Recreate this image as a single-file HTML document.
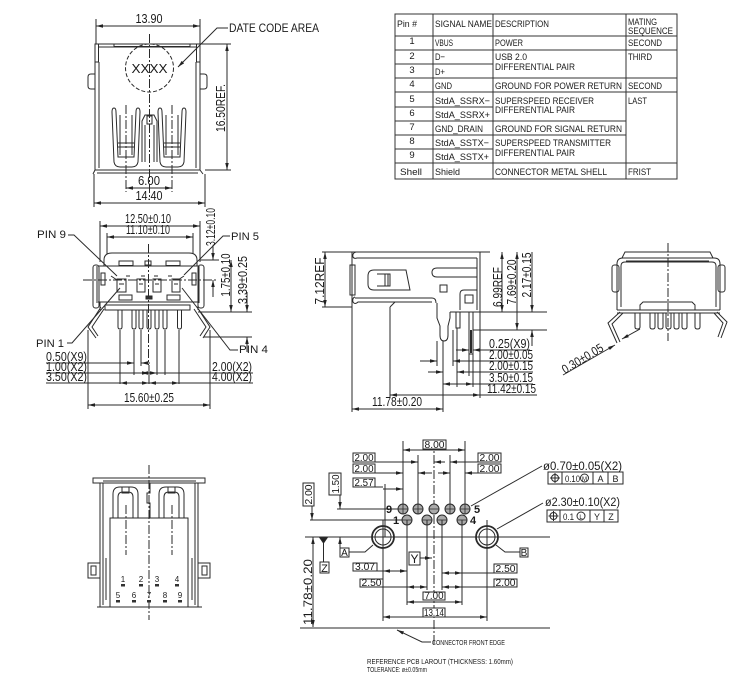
<!DOCTYPE html>
<html><head><meta charset="utf-8"><style>
html,body{margin:0;padding:0;background:#fff;width:750px;height:690px;overflow:hidden}
svg{display:block}
text{font-family:"Liberation Sans",sans-serif;fill:#1a1a1a;stroke:none}
.d{marker-start:url(#a);marker-end:url(#a)}
.e{marker-end:url(#a)}
.c{stroke-dasharray:9 2 2 2}
.h{stroke-dasharray:4 2}
</style></head><body>
<svg width="750" height="690" viewBox="0 0 750 690" xmlns="http://www.w3.org/2000/svg">
<defs>
<marker id="a" viewBox="0 0 10 10" refX="10" refY="5" markerWidth="7" markerHeight="7" markerUnits="userSpaceOnUse" orient="auto-start-reverse"><path d="M0,2.5 L10,5 L0,7.5z" fill="#222"/></marker>
</defs>
<g fill="none" stroke="#2a2a2a" stroke-width="1">

<!-- ============ VIEW 1 (front top) ============ -->
<line x1="96" y1="19" x2="96" y2="44"/><line x1="200" y1="19" x2="200" y2="44"/>
<line class="d" x1="96" y1="26" x2="200" y2="26"/>
<path d="M95,44 H200 V170 H95 Z"/>
<path d="M99,62 V168 M196,62 V168 M99,47 H196"/>
<rect x="114" y="44" width="76" height="2.5"/>
<rect x="95" y="44" width="3.5" height="18"/><rect x="196.5" y="44" width="3.5" height="18"/>
<path d="M95,74 H91 Q88,74 88,77 V86 Q88,89 91,89 H95 M200,74 H204 Q207,74 207,77 V86 Q207,89 204,89 H200"/>
<circle cx="149.5" cy="68" r="24" class="h"/>
<line class="c" x1="149.5" y1="34" x2="149.5" y2="200"/>
<path class="e" d="M228,28 H217 L178,67"/>
<g id="u1">
<path d="M112,112 Q112,108 114,108 Q116,108 116,112 L118,157 H134 L136,112 Q136,108 138,108 Q140,108 140,112 L138,162 Q137,167 132,167 H120 Q115,167 114,162 Z"/>
<path d="M120,115 V155 M132,115 V155 M118,143 H134 M118,147 H134"/>
</g>
<use href="#u1" x="46" y="0"/>
<path d="M142,162 V121 L145,115 H154 L157,121 V162 M145,162 V125 M154,162 V125"/>
<rect x="147" y="116" width="5" height="8"/>
<line class="c" x1="126" y1="105" x2="126" y2="192"/><line class="c" x1="172" y1="105" x2="172" y2="192"/>
<path d="M93,174 L95,170 M200,170 L203,174 M97,173 H198"/>
<line class="d" x1="126" y1="188" x2="172" y2="188"/>
<line x1="94" y1="174" x2="94" y2="207"/><line x1="205" y1="174" x2="205" y2="207"/>
<line class="d" x1="94" y1="203" x2="205" y2="203"/>
<line x1="200" y1="44" x2="231" y2="44"/><line x1="205" y1="170" x2="231" y2="170"/>
<line class="d" x1="227" y1="44" x2="227" y2="170"/>

<!-- ============ TABLE ============ -->
<g stroke="#333">
<rect x="395" y="14" width="282" height="165"/>
<path d="M433,14 V179 M493,14 V179 M626,14 V179"/>
<path d="M395,36 H677 M395,50 H677 M395,64 H493 M395,78 H677 M395,92 H677 M395,107 H493 M395,121 H626 M395,135 H626 M395,149 H493 M395,163 H677"/>
</g>

<!-- ============ VIEW 2 (front with pins) ============ -->
<line x1="100" y1="221" x2="100" y2="262"/><line x1="200" y1="221" x2="200" y2="262"/>
<line class="d" x1="100" y1="226" x2="200" y2="226"/>
<line x1="107" y1="233" x2="107" y2="254"/><line x1="193" y1="233" x2="193" y2="254"/>
<line class="d" x1="107" y1="237" x2="193" y2="237"/>
<path d="M104,266 V260 Q104,253 112,253 H189 Q197,253 197,260 V266"/>
<path d="M98,266 H198 M98,302 H198 M97,266 V303 M199,266 V303"/>
<rect x="93" y="265" width="6" height="43" rx="2.5"/><rect x="198" y="265" width="6" height="43" rx="2.5"/>
<rect x="101" y="273" width="4" height="12"/><rect x="192" y="273" width="4" height="12"/>
<rect x="119" y="261" width="14" height="4.5"/><rect x="145" y="261" width="6" height="4"/><rect x="166" y="261" width="14" height="4.5"/>
<path d="M111,276 L117,280 M126,276 H130 M141,276 H145 M154,276 H158 M168,276 H172 M184,276 L178,280"/>
<rect x="117" y="279" width="9" height="13"/><rect x="137" y="279" width="8" height="13"/><rect x="153" y="279" width="8" height="13"/><rect x="172" y="279" width="8" height="13"/>
<path d="M119,284 H124 M139,284 H143 M155,284 H159 M174,284 H178"/>
<rect x="119" y="295" width="13" height="5"/><rect x="167" y="295" width="13" height="5"/>
<rect x="146" y="296" width="6" height="3" fill="#333"/>
<path d="M105,305 H190 V310 H105 Z M100,302 V310 M198,302 V310"/>
<g id="pn"><path d="M118,310 V327 Q118,329 120,329 Q122,329 122,327 V310"/></g>
<use href="#pn" x="14"/><use href="#pn" x="21"/><use href="#pn" x="29"/><use href="#pn" x="37"/><use href="#pn" x="45"/><use href="#pn" x="59.5"/>
<path d="M101,307 L88,327 L96,338 M104,309 L92,327 L98,336"/>
<path d="M197,307 L210,327 L203,338 M194,309 L206,327 L200,336"/>
<line class="c" x1="148.5" y1="244" x2="148.5" y2="365"/>
<line class="c" x1="83" y1="280" x2="218" y2="280"/>
<path d="M68,235 H74 L117,276 M230,236 H223 L184,275 M67,343 H72 L120,288 M238,350 H230 L182,288"/>
<path d="M200,260 H219 M198,312 H252 M204,337 H252"/>
<line class="e" x1="213" y1="246" x2="213" y2="260"/><line class="e" x1="213" y1="297" x2="213" y2="280"/>
<line class="d" x1="231" y1="260" x2="231" y2="312"/>
<line class="e" x1="247" y1="292" x2="247" y2="312"/><line class="e" x1="247" y1="352" x2="247" y2="337"/>
<path d="M88,330 V409 M210,330 V409 M120,330 V384 M134,330 V375 M141,330 V366 M149,365 V384 M157,330 V375 M165,330 V375 M179,330 V384"/>
<path d="M46,363 H132" /><line class="e" x1="125" y1="363" x2="134" y2="363"/><line class="e" x1="150" y1="363" x2="141" y2="363"/>
<path d="M46,373 H253"/><path d="M46,383 H253"/>
<line class="d" x1="141" y1="373" x2="157" y2="373"/>
<line class="d" x1="134" y1="373" x2="149" y2="373" style="marker-start:none"/>
<line class="d" x1="120" y1="383" x2="149" y2="383"/><line class="d" x1="149" y1="383" x2="179" y2="383"/>
<line class="d" x1="88" y1="405" x2="210" y2="405"/>

<!-- ============ VIEW 3 (side) ============ -->
<path d="M322,252 H490"/>
<line class="d" x1="325" y1="252" x2="325" y2="307"/>
<path d="M322,307 H352"/>
<path d="M352,252 V412"/>
<path d="M356,252 Q352,253 353,257 Q354,259 357,258 H477"/>
<rect x="350" y="265" width="5" height="30"/>
<path d="M355,297 Q352,298 353,302 Q355,305 358,302 L432,302 M355,298 H432 Q436,298 436,303"/>
<path d="M374,270 H406 L410,290 H374 Q368,290 368,284 V276 Q368,270 374,270 Z M377,274 H390 V286 H377 M385,274 V286 M388,274 V286"/>
<path d="M437,268 H477 V277 H437 Q432,277 432,272.5 Q432,268 437,268 Z"/>
<rect x="440" y="285" width="7" height="7"/>
<path d="M460,310 V294 Q460,290 464,290 H477"/><rect x="465" y="295" width="8" height="8"/>
<path d="M477,258 V310 M480,252 V398"/>
<path d="M390,307 L395,302 M390,307 V398"/>
<path d="M437,303 V318 L440,326 V335 Q440,341 444,341 Q448,341 448,335 V326 L450,318 V312"/>
<path d="M450,312 H547 M473,330 H547"/>
<rect x="456" y="312" width="4" height="16"/><rect x="469" y="312" width="4" height="42"/>
<line x1="471" y1="330" x2="471" y2="353" stroke-width="2"/>
<line class="d" x1="502" y1="252" x2="502" y2="312"/>
<line class="d" x1="517" y1="252" x2="517" y2="330"/>
<line class="e" x1="532" y1="252" x2="532" y2="312"/><line class="e" x1="532" y1="346" x2="532" y2="330"/>
<path d="M437,341 V366 M443,341 V412 M453,330 V366 M457,328 V387 M469,354 V376 M473,354 V387"/>
<line class="e" x1="456" y1="350" x2="469" y2="350"/><path d="M473,350 H530"/><line class="e" x1="486" y1="350" x2="473" y2="350"/>
<line class="e" x1="420" y1="361" x2="437" y2="361"/><path d="M453,361 H533"/><line class="e" x1="466" y1="361" x2="453" y2="361"/>
<line class="e" x1="428" y1="372" x2="443" y2="372"/><path d="M457,372 H533"/><line class="e" x1="470" y1="372" x2="457" y2="372"/>
<line class="d" x1="443" y1="384" x2="473" y2="384"/><path d="M473,384 H533"/>
<line class="d" x1="390" y1="395" x2="480" y2="395"/><path d="M480,395 H537"/>
<line class="d" x1="352" y1="409" x2="443" y2="409"/>

<!-- ============ VIEW 4 (rear) ============ -->
<path d="M622,258 L625,252 H710 L713,258"/>
<path d="M626,261 H709"/>
<path d="M617,310 V264 Q617,258 623,258 H714 Q720,258 720,264 V310"/>
<path d="M621,307 V266 Q621,262 625,262 H712 Q716,262 716,266 V307"/>
<rect x="612" y="265" width="7" height="27" rx="2.5"/><rect x="718" y="265" width="7" height="27" rx="2.5"/>
<path d="M640,310 V305 L643,302 H692 L695,305 V310"/>
<path d="M617,310 H720 M617,313 H720"/>
<g id="p4"><path d="M635,313 V327 Q635,329 637.5,329 Q640,329 640,327 V313"/></g>
<use href="#p4" x="15"/><use href="#p4" x="23"/><use href="#p4" x="31"/><use href="#p4" x="39"/><use href="#p4" x="47"/><use href="#p4" x="60"/>
<line class="c" x1="668" y1="243" x2="668" y2="341"/>
<path d="M620,312 L608,323 L617,343 M623,313 L612,324 L620,342"/>
<path d="M717,312 L727,322 L721,338 M714,313 L723,323 L718,337"/>
<line class="e" x1="563" y1="375" x2="615" y2="345"/>
<line class="e" x1="640" y1="329" x2="622" y2="339"/>

<!-- ============ VIEW 5 (bottom) ============ -->
<path d="M93,483 V478 H205 V483 Z M103,481 H196"/>
<path d="M100,483 V607 M198,483 V607 M103,483 V605 M195,483 V605"/>
<path d="M113,518 V494 Q113,487 120,487 H131 Q138,487 138,494 V518 M118,518 V497 Q118,492 123,492 H128 Q133,492 133,497 V518"/>
<path d="M159,518 V494 Q159,487 166,487 H177 Q184,487 184,494 V518 M164,518 V497 Q164,492 169,492 H174 Q179,492 179,497 V518"/>
<rect x="122" y="487" width="7" height="6"/><rect x="168" y="487" width="7" height="6"/>
<path d="M150,483 V493 H147 V503 H150 V518"/>
<rect x="110" y="518" width="78" height="89"/>
<line class="c" x1="126" y1="505" x2="126" y2="555"/><line class="c" x1="172" y1="505" x2="172" y2="555"/>
<rect x="88" y="563" width="12" height="15"/><rect x="198" y="563" width="12" height="15"/>
<rect x="91" y="566" width="5" height="9"/><rect x="202" y="566" width="5" height="9"/>
<path d="M106,558 V600 M192,558 V600 M97,607 H202"/>
<line class="c" x1="149" y1="465" x2="149" y2="620"/>
<g fill="#333" stroke="none">
<rect x="121" y="584" width="4" height="2.5"/><rect x="139" y="584" width="4" height="2.5"/><rect x="155" y="584" width="4" height="2.5"/><rect x="175" y="584" width="4" height="2.5"/>
<rect x="116" y="600" width="4" height="2.5"/><rect x="132" y="600" width="4" height="2.5"/><rect x="147" y="600" width="4" height="2.5"/><rect x="163" y="600" width="4" height="2.5"/><rect x="178" y="600" width="4" height="2.5"/>
</g>

<!-- ============ PCB LAYOUT ============ -->
<line class="c" x1="434" y1="440" x2="434" y2="646"/>
<path d="M403,441 V504 M465,441 V504 M418,455 V504 M450,455 V504"/>
<line class="d" x1="403" y1="450" x2="465" y2="450"/>
<rect x="423" y="440" width="23" height="9" fill="#fff"/>
<rect x="353" y="453" width="22" height="9"/><rect x="353" y="464" width="22" height="9"/><rect x="353" y="478" width="22" height="9"/>
<rect x="478" y="453" width="23" height="9"/><rect x="478" y="464" width="23" height="9"/>
<path d="M375,462 H403"/><line class="e" x1="403" y1="462" x2="418" y2="462"/><line class="e" x1="445" y1="462" x2="434" y2="462"/>
<path d="M478,462 H465"/><line class="e" x1="465" y1="462" x2="450" y2="462"/>
<line class="e" x1="375" y1="473" x2="403" y2="473"/><line class="e" x1="432" y1="473" x2="418" y2="473"/>
<line class="e" x1="478" y1="473" x2="465" y2="473"/><line class="e" x1="438" y1="473" x2="450" y2="473"/>
<path d="M375,487 H383"/><line class="e" x1="383" y1="489" x2="403" y2="489"/>
<path d="M385,484 V537"/>
<path d="M310,520 H402 M337,509 H398"/>
<rect x="303" y="483" width="11" height="23"/>
<line class="e" x1="312" y1="506" x2="312" y2="520"/>
<rect x="329" y="473" width="12" height="22"/>
<line class="e" x1="340" y1="495" x2="340" y2="509"/><line class="e" x1="340" y1="552" x2="340" y2="537"/>
<g fill="#aaa">
<circle cx="403" cy="509" r="5"/><circle cx="418" cy="509" r="5"/><circle cx="434" cy="509" r="5"/><circle cx="450" cy="509" r="5"/><circle cx="465" cy="509" r="5"/>
<circle cx="407" cy="520" r="5"/><circle cx="427" cy="520" r="5"/><circle cx="442" cy="520" r="5"/><circle cx="462" cy="520" r="5"/>
</g>
<path d="M398,509 H408 M403,504 V514 M413,509 H423 M418,504 V514 M429,509 H439 M445,509 H455 M450,504 V514 M460,509 H470 M465,504 V514 M402,520 H412 M422,520 H432 M437,520 H447 M457,520 H467" stroke-width="0.8"/>
<circle cx="383" cy="537" r="11" stroke-width="1.8"/><circle cx="383" cy="537" r="8"/>
<circle cx="487" cy="537" r="11" stroke-width="1.8"/><circle cx="487" cy="537" r="8"/>
<path d="M305,537 H550"/>
<path d="M383,520 V621 M487,520 V621 M407,520 V605 M462,520 V605 M427,520 V590 M442,520 V590"/>
<path d="M320,538 H327 L323.5,543 Z" fill="#222"/>
<path d="M323.5,543 V562"/>
<rect x="320" y="562" width="9" height="11"/>
<rect x="340" y="548" width="9" height="9"/><path d="M349,552 H365 L373,545"/>
<rect x="520" y="548" width="8" height="9"/><path d="M520,552 H505 L496,545"/>
<rect x="409" y="552" width="11" height="13"/><line class="e" x1="420" y1="558" x2="432" y2="558"/>
<line class="d" x1="313" y1="537" x2="313" y2="627"/>
<rect x="353" y="563" width="24" height="8"/><path d="M377,571 H383"/><line class="d" x1="383" y1="571" x2="407" y2="571"/>
<rect x="360" y="579" width="23" height="8"/><line class="d" x1="407" y1="587" x2="427" y2="587"/><path d="M383,587 H407"/>
<rect x="494" y="564" width="23" height="9"/><path d="M494,573 H462"/><line class="d" x1="442" y1="573" x2="462" y2="573"/>
<rect x="494" y="579" width="23" height="8"/><path d="M494,587 H462"/><line class="d" x1="442" y1="587" x2="462" y2="587"/>
<rect x="423" y="592" width="22" height="8" fill="#fff"/><line class="d" x1="407" y1="602" x2="462" y2="602"/>
<rect x="423" y="608" width="22" height="9" fill="#fff"/><line class="d" x1="383" y1="617" x2="487" y2="617"/>
<path d="M300,628 H550"/>
<path d="M431,642 H422 L397,630" class="e"/>
<path d="M542,466 L471,506"/>
<path d="M543,503 L497,529"/>
<rect x="548" y="472" width="75" height="12"/><path d="M562,472 V484 M593,472 V484 M608,472 V484"/>
<rect x="547" y="510" width="71" height="12"/><path d="M560,510 V522 M590,510 V522 M604,510 V522"/>
<circle cx="555" cy="478" r="3.5"/><path d="M550,478 H560 M555,473 V483"/>
<circle cx="553.5" cy="516" r="3.5"/><path d="M548.5,516 H558.5 M553.5,511 V521"/>
<circle cx="584.5" cy="478" r="4"/><circle cx="581" cy="516" r="4"/>
</g>

<!-- ============ TEXT ============ -->
<g font-size="12.5">
<text x="149" y="23" text-anchor="middle" textLength="27" lengthAdjust="spacingAndGlyphs">13.90</text>
<text x="149.5" y="73" text-anchor="middle" font-size="13" textLength="36" lengthAdjust="spacingAndGlyphs">XXXX</text>
<text x="229" y="32" font-size="11.5" textLength="90" lengthAdjust="spacingAndGlyphs">DATE CODE AREA</text>
<text x="149" y="185" text-anchor="middle" textLength="22" lengthAdjust="spacingAndGlyphs">6.00</text>
<text x="149" y="200" text-anchor="middle" textLength="27" lengthAdjust="spacingAndGlyphs">14.40</text>
<text transform="translate(225,108) rotate(-90)" text-anchor="middle" textLength="48" lengthAdjust="spacingAndGlyphs">16.50REF.</text>

<text x="148" y="223" text-anchor="middle" textLength="46" lengthAdjust="spacingAndGlyphs">12.50±0.10</text>
<text x="148" y="234" text-anchor="middle" textLength="44" lengthAdjust="spacingAndGlyphs">11.10±0.10</text>
<text transform="translate(215,227) rotate(-90)" text-anchor="middle" textLength="38" lengthAdjust="spacingAndGlyphs">3.12±0.10</text>
<text transform="translate(230,275) rotate(-90)" text-anchor="middle" textLength="43" lengthAdjust="spacingAndGlyphs">1.75±0.10</text>
<text transform="translate(247,280) rotate(-90)" text-anchor="middle" textLength="48" lengthAdjust="spacingAndGlyphs">3.39±0.25</text>
<text x="37" y="238" font-size="11" textLength="29" lengthAdjust="spacingAndGlyphs">PIN 9</text>
<text x="231" y="240" font-size="11" textLength="28" lengthAdjust="spacingAndGlyphs">PIN 5</text>
<text x="36" y="347" font-size="11" textLength="28" lengthAdjust="spacingAndGlyphs">PIN 1</text>
<text x="239" y="353" font-size="11" textLength="29" lengthAdjust="spacingAndGlyphs">PIN 4</text>
<text x="46" y="361" textLength="41" lengthAdjust="spacingAndGlyphs">0.50(X9)</text>
<text x="46" y="371" textLength="41" lengthAdjust="spacingAndGlyphs">1.00(X2)</text>
<text x="46" y="381" textLength="41" lengthAdjust="spacingAndGlyphs">3.50(X2)</text>
<text x="212" y="371" textLength="40" lengthAdjust="spacingAndGlyphs">2.00(X2)</text>
<text x="212" y="381" textLength="40" lengthAdjust="spacingAndGlyphs">4.00(X2)</text>
<text x="149" y="402" text-anchor="middle" textLength="50" lengthAdjust="spacingAndGlyphs">15.60±0.25</text>

<text transform="translate(324,281) rotate(-90)" text-anchor="middle" textLength="47" lengthAdjust="spacingAndGlyphs">7.12REF</text>
<text transform="translate(502,287) rotate(-90)" text-anchor="middle" textLength="40" lengthAdjust="spacingAndGlyphs">6.99REF</text>
<text transform="translate(516,282) rotate(-90)" text-anchor="middle" textLength="45" lengthAdjust="spacingAndGlyphs">7.69±0.20</text>
<text transform="translate(531,275) rotate(-90)" text-anchor="middle" textLength="45" lengthAdjust="spacingAndGlyphs">2.17±0.15</text>
<text x="489" y="348" textLength="41" lengthAdjust="spacingAndGlyphs">0.25(X9)</text>
<text x="489" y="359" textLength="44" lengthAdjust="spacingAndGlyphs">2.00±0.05</text>
<text x="489" y="370" textLength="44" lengthAdjust="spacingAndGlyphs">2.00±0.15</text>
<text x="489" y="382" textLength="44" lengthAdjust="spacingAndGlyphs">3.50±0.15</text>
<text x="487" y="393" textLength="49" lengthAdjust="spacingAndGlyphs">11.42±0.15</text>
<text x="397" y="406" text-anchor="middle" textLength="50" lengthAdjust="spacingAndGlyphs">11.78±0.20</text>
<text transform="translate(565,374) rotate(-31)" textLength="46" lengthAdjust="spacingAndGlyphs">0.30±0.05</text>
</g>

<!-- view5 pin numbers -->
<g font-size="8" text-anchor="middle">
<text x="123" y="582">1</text><text x="141" y="582">2</text><text x="157" y="582">3</text><text x="177" y="582">4</text>
<text x="118" y="598">5</text><text x="134" y="598">6</text><text x="149" y="598">7</text><text x="165" y="598">8</text><text x="180" y="598">9</text>
</g>

<!-- table text -->
<g font-size="9.5">
<text x="397" y="27" textLength="20" lengthAdjust="spacingAndGlyphs">Pin #</text>
<text x="435" y="27" textLength="57" lengthAdjust="spacingAndGlyphs">SIGNAL NAME</text>
<text x="495" y="27" textLength="54" lengthAdjust="spacingAndGlyphs">DESCRIPTION</text>
<text x="628" y="25" textLength="29" lengthAdjust="spacingAndGlyphs">MATING</text>
<text x="628" y="34" textLength="45" lengthAdjust="spacingAndGlyphs">SEQUENCE</text>
<g text-anchor="middle">
<text x="412" y="44">1</text><text x="412" y="59">2</text><text x="412" y="73">3</text><text x="412" y="87">4</text><text x="412" y="102">5</text><text x="412" y="116">6</text><text x="412" y="130">7</text><text x="412" y="144">8</text><text x="412" y="158">9</text>
<text x="411" y="175" textLength="22" lengthAdjust="spacingAndGlyphs">Shell</text>
</g>
<text x="435" y="46" textLength="18" lengthAdjust="spacingAndGlyphs">VBUS</text>
<text x="435" y="60" textLength="10" lengthAdjust="spacingAndGlyphs">D−</text>
<text x="435" y="75" textLength="10" lengthAdjust="spacingAndGlyphs">D+</text>
<text x="435" y="89" textLength="17" lengthAdjust="spacingAndGlyphs">GND</text>
<text x="435" y="104" textLength="55" lengthAdjust="spacingAndGlyphs">StdA_SSRX−</text>
<text x="435" y="118" textLength="55" lengthAdjust="spacingAndGlyphs">StdA_SSRX+</text>
<text x="435" y="132" textLength="48" lengthAdjust="spacingAndGlyphs">GND_DRAIN</text>
<text x="435" y="146" textLength="54" lengthAdjust="spacingAndGlyphs">StdA_SSTX−</text>
<text x="435" y="160" textLength="54" lengthAdjust="spacingAndGlyphs">StdA_SSTX+</text>
<text x="435" y="175" textLength="25" lengthAdjust="spacingAndGlyphs">Shield</text>
<text x="495" y="46" textLength="28" lengthAdjust="spacingAndGlyphs">POWER</text>
<text x="495" y="60" textLength="32" lengthAdjust="spacingAndGlyphs">USB 2.0</text>
<text x="495" y="70" textLength="80" lengthAdjust="spacingAndGlyphs">DIFFERENTIAL PAIR</text>
<text x="495" y="89" textLength="127" lengthAdjust="spacingAndGlyphs">GROUND FOR POWER RETURN</text>
<text x="495" y="104" textLength="99" lengthAdjust="spacingAndGlyphs">SUPERSPEED RECEIVER</text>
<text x="495" y="113" textLength="80" lengthAdjust="spacingAndGlyphs">DIFFERENTIAL PAIR</text>
<text x="495" y="132" textLength="127" lengthAdjust="spacingAndGlyphs">GROUND FOR SIGNAL RETURN</text>
<text x="495" y="146" textLength="116" lengthAdjust="spacingAndGlyphs">SUPERSPEED TRANSMITTER</text>
<text x="495" y="156" textLength="80" lengthAdjust="spacingAndGlyphs">DIFFERENTIAL PAIR</text>
<text x="495" y="175" textLength="112" lengthAdjust="spacingAndGlyphs">CONNECTOR METAL SHELL</text>
<text x="628" y="46" textLength="34" lengthAdjust="spacingAndGlyphs">SECOND</text>
<text x="628" y="60" textLength="24" lengthAdjust="spacingAndGlyphs">THIRD</text>
<text x="628" y="89" textLength="34" lengthAdjust="spacingAndGlyphs">SECOND</text>
<text x="628" y="104" textLength="19" lengthAdjust="spacingAndGlyphs">LAST</text>
<text x="628" y="175" textLength="23" lengthAdjust="spacingAndGlyphs">FRIST</text>
</g>

<!-- PCB text -->
<g font-size="10" text-anchor="middle">
<text x="434.5" y="448" textLength="20" lengthAdjust="spacingAndGlyphs">8.00</text>
<text x="364" y="461" textLength="19" lengthAdjust="spacingAndGlyphs">2.00</text>
<text x="364" y="472" textLength="19" lengthAdjust="spacingAndGlyphs">2.00</text>
<text x="364" y="486" textLength="19" lengthAdjust="spacingAndGlyphs">2.57</text>
<text x="489.5" y="461" textLength="20" lengthAdjust="spacingAndGlyphs">2.00</text>
<text x="489.5" y="472" textLength="20" lengthAdjust="spacingAndGlyphs">2.00</text>
<text transform="translate(312,494.5) rotate(-90)" textLength="20" lengthAdjust="spacingAndGlyphs">2.00</text>
<text transform="translate(339,484) rotate(-90)" textLength="19" lengthAdjust="spacingAndGlyphs">1.50</text>
<text x="344.5" y="556">A</text>
<text x="524" y="556">B</text>
<text x="414.5" y="563" font-size="12">Y</text>
<text x="324.5" y="572" font-size="11">Z</text>
<text x="365" y="570" textLength="20" lengthAdjust="spacingAndGlyphs">3.07</text>
<text x="371.5" y="586" textLength="20" lengthAdjust="spacingAndGlyphs">2.50</text>
<text x="505.5" y="572" textLength="20" lengthAdjust="spacingAndGlyphs">2.50</text>
<text x="505.5" y="586" textLength="20" lengthAdjust="spacingAndGlyphs">2.00</text>
<text x="434" y="599" textLength="19" lengthAdjust="spacingAndGlyphs">7.00</text>
<text x="434" y="616" textLength="20" lengthAdjust="spacingAndGlyphs">13.14</text>
<text transform="translate(312,592) rotate(-90)" font-size="12" textLength="66" lengthAdjust="spacingAndGlyphs">11.78±0.20</text>
<text x="584.5" y="481" font-size="6">M</text>
<text x="581" y="519" font-size="6">L</text>
<text x="600.5" y="482" font-size="9">A</text>
<text x="615.5" y="482" font-size="9">B</text>
<text x="597" y="520" font-size="9">Y</text>
<text x="611" y="520" font-size="9">Z</text>
</g>
<g font-size="9">
<text x="565" y="482" textLength="15" lengthAdjust="spacingAndGlyphs">0.10</text>
<text x="563" y="520" textLength="11" lengthAdjust="spacingAndGlyphs">0.1</text>
</g>
<g font-size="11.5">
<text x="543" y="470" textLength="79" lengthAdjust="spacingAndGlyphs">ø0.70±0.05(X2)</text>
<text x="545" y="506" textLength="75" lengthAdjust="spacingAndGlyphs">ø2.30±0.10(X2)</text>
</g>
<g font-size="11" font-weight="bold">
<text x="386" y="513">9</text><text x="474" y="513">5</text><text x="393" y="524">1</text><text x="470" y="524">4</text>
</g>
<g font-size="7.5">
<text x="432" y="645" textLength="73" lengthAdjust="spacingAndGlyphs">CONNECTOR FRONT EDGE</text>
<text x="367" y="664" textLength="146" lengthAdjust="spacingAndGlyphs">REFERENCE PCB LAROUT (THICKNESS: 1.60mm)</text>
<text x="367" y="672" textLength="60" lengthAdjust="spacingAndGlyphs">TOLERANCE: ø±0.05mm</text>
</g>
</svg>
</body></html>
